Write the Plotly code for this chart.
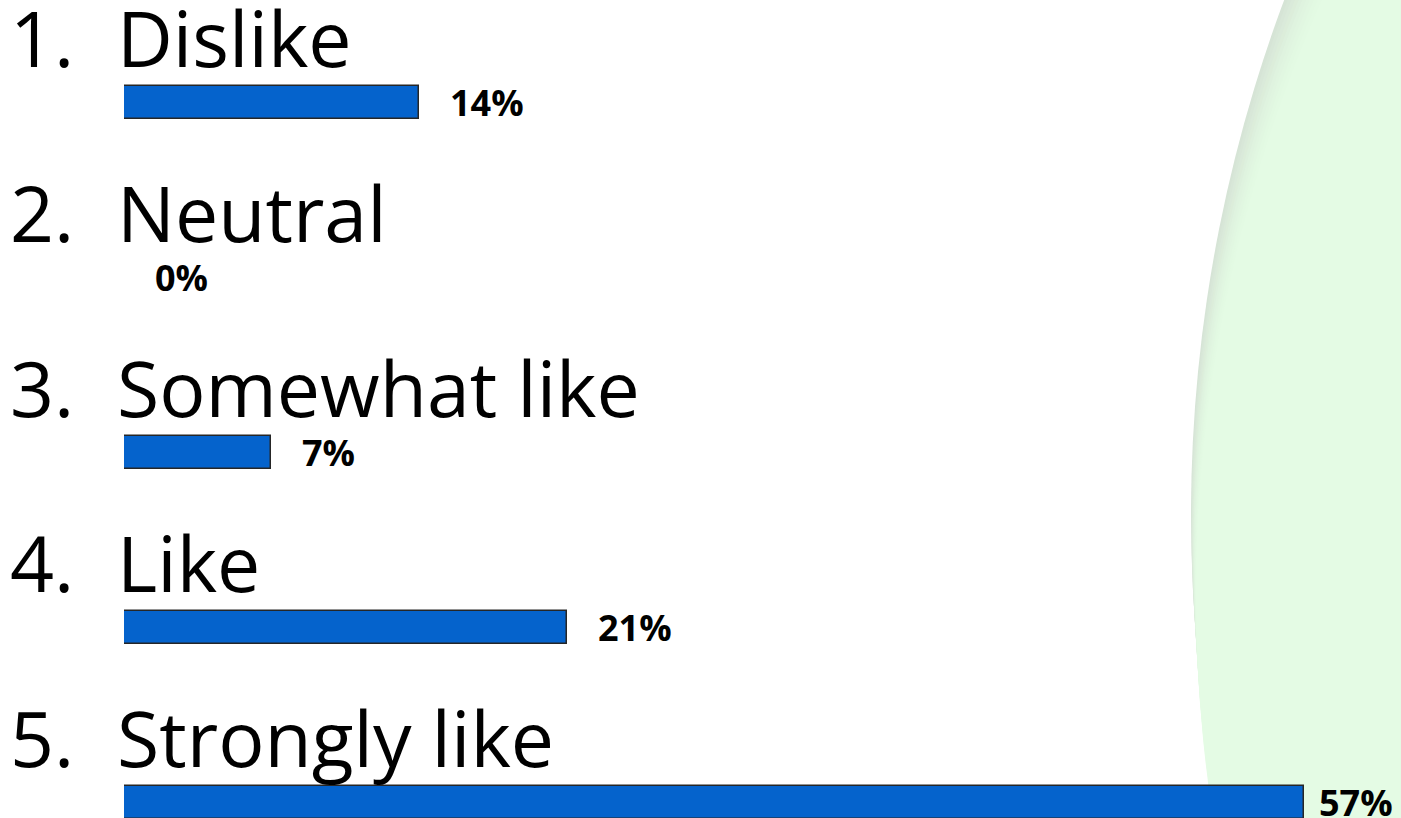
import plotly.graph_objects as go

# ---- data ----
numbers = ["1.", "2.", "3.", "4.", "5."]
categories = ["Dislike", "Neutral", "Somewhat like", "Like", "Strongly like"]
values = [14.29, 0.0, 7.14, 21.43, 57.14]
value_labels = ["14%", "0%", "7%", "21%", "57%"]

W, H = 1401, 818
bar_x0_px = 124
px_per_pct = 20.65
xmax = (W - bar_x0_px) / px_per_pct
first_center_px = 102
step_px = 175
ypos = list(range(len(categories)))
y_top = -first_center_px / step_px
y_bot = (H - first_center_px) / step_px

fig = go.Figure()

# background decorative shapes (light green disc at right)
R = 1470
cx, cy = 1191 + R, 515
def circ(cx, cy, r, color):
    return dict(type="circle", xref="paper", yref="paper",
                x0=(cx - r) / W, x1=(cx + r) / W,
                y0=1 - (cy + r) / H, y1=1 - (cy - r) / H,
                fillcolor=color, line=dict(width=0), layer="below")

shapes = [circ(cx, cy, R, "#d6e4d6")]
grad = ["#d8e7d8", "#daeada", "#dcedda", "#ddf0dd", "#dff3df", "#e0f5e0", "#e1f7e1", "#e2f9e2", "#e3fae3", "#e4fbe4"]
for k, col in enumerate(grad):
    shapes.append(circ(cx + 0.5 * (k + 1), cy + 8 * (k + 1), R, col))
shapes.append(circ(1401 + 330, 818 + 330, 400, "#c8f8a8"))

fig.add_trace(go.Bar(
    x=values, y=ypos, orientation="h", base=0,
    width=33 / step_px,
    marker=dict(color="#0563CC", line=dict(color="#262626", width=1.5)),
    hoverinfo="skip", showlegend=False,
))

FONT = "Open Sans"
annotations = []
for i, (n, c) in enumerate(zip(numbers, categories)):
    annotations.append(dict(x=8 / W, xref="paper", y=ypos[i], yref="y",
                            text=n, showarrow=False, xanchor="left", yanchor="middle",
                            yshift=65, font=dict(family=FONT, size=77, color="#000")))
    annotations.append(dict(x=(bar_x0_px - 9) / W, xref="paper", y=ypos[i], yref="y",
                            text=c, showarrow=False, xanchor="left", yanchor="middle",
                            yshift=65, font=dict(family=FONT, size=77, color="#000")))

for i, (v, t) in enumerate(zip(values, value_labels)):
    end_px = bar_x0_px + v * px_per_pct
    if end_px + 35 + 80 > W:
        ann = dict(x=(W - 6) / W, xref="paper", xanchor="right")
    else:
        ann = dict(x=v, xref="x", xanchor="left", xshift=29)
    ann.update(y=ypos[i], yref="y", yanchor="middle", yshift=0, text=t, showarrow=False,
               font=dict(family=FONT, size=36, color="#000", weight="bold"))
    annotations.append(ann)

fig.update_layout(
    width=W, height=H,
    margin=dict(l=0, r=0, t=0, b=0),
    paper_bgcolor="white", plot_bgcolor="rgba(0,0,0,0)",
    shapes=shapes, annotations=annotations,
    xaxis=dict(domain=[bar_x0_px / W, 1], range=[0, xmax], visible=False, fixedrange=True),
    yaxis=dict(range=[y_bot, y_top], visible=False, fixedrange=True),
    bargap=0,
)

fig.write_html("out.html", config={"displayModeBar": False},
               post_script="document.body.style.margin='0';document.body.style.overflow='hidden';")
